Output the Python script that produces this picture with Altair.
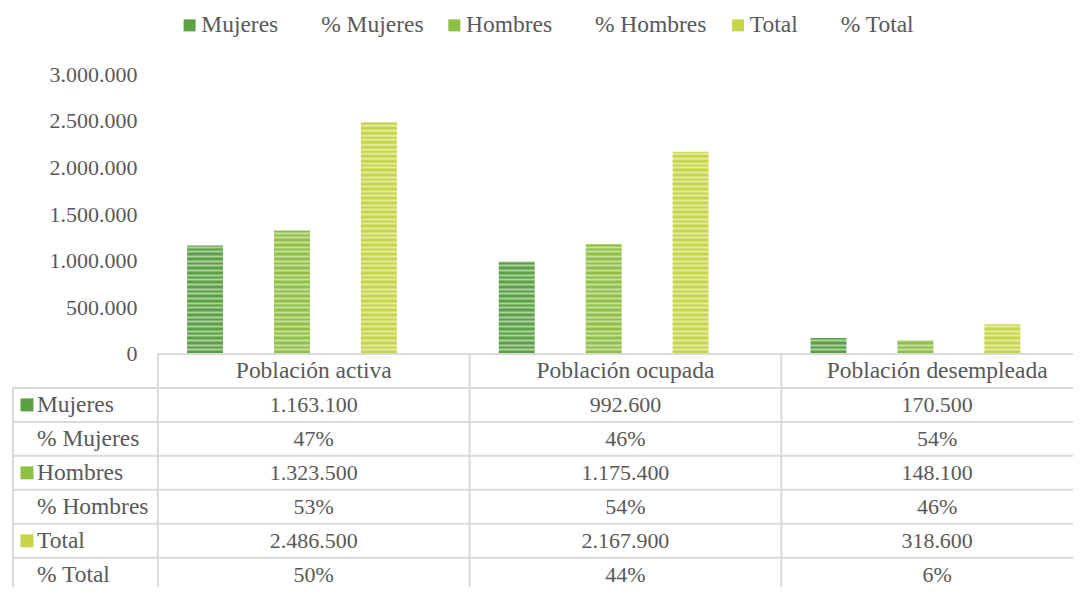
import altair as alt
import pandas as pd

categories = ["Población activa", "Población ocupada", "Población desempleada"]
series = ["Mujeres", "% Mujeres", "Hombres", "% Hombres", "Total", "% Total"]
mujeres = [1163100, 992600, 170500]
pct_mujeres = [0.47, 0.46, 0.54]
hombres = [1323500, 1175400, 148100]
pct_hombres = [0.53, 0.54, 0.46]
total = [2486500, 2167900, 318600]
pct_total = [0.50, 0.44, 0.06]

colors = ["#5aa144", "transparent", "#8fc043", "transparent", "#c6d647", "transparent"]

FONT = "Liberation Serif"
TXT = "#595959"
LINE = "#d9d9d9"
FS_NUM = 22
FS_WORD = 23.5

values_by_series = [mujeres, pct_mujeres, hombres, pct_hombres, total, pct_total]


def fmt(v, pct):
    if pct:
        return f"{round(v * 100):d}%"
    return f"{v:,}".replace(",", ".")


recs = []
for s, vals in zip(series, values_by_series):
    for c, v in zip(categories, vals):
        recs.append({"cat": c, "series": s, "value": v, "label": fmt(v, s.startswith("%"))})
df = pd.DataFrame(recs)

HDR = "__hdr__"
rows = [HDR] + series
hdr_df = pd.DataFrame({"cat": categories, "series": HDR, "label": categories})
rowlab_df = pd.DataFrame({"series": series})

W = 936
H_TOP = 280
ROW = 34
H_BOT = ROW * len(rows)

xcat = alt.X("cat:N", sort=categories, scale=alt.Scale(domain=categories, paddingInner=0, paddingOuter=0), axis=None)

color_scale = alt.Scale(domain=series, range=colors)

bars = alt.Chart(df).mark_bar().encode(
    x=xcat,
    xOffset=alt.XOffset("series:N", sort=series,
                        scale=alt.Scale(domain=series, paddingInner=0.1724, paddingOuter=0.672)),
    y=alt.Y("value:Q", scale=alt.Scale(domain=[0, 3000000], nice=False),
            axis=alt.Axis(title=None, domain=False, ticks=False, tickSize=0, labelPadding=21,
                          tickCount=60, labelOverlap=False,
                          labelExpr="datum.value % 500000 === 0 ? replace(format(datum.value, ','), regexp(',', 'g'), '.') : ''",
                          labelFont=FONT, labelFontSize=FS_NUM, labelColor=TXT,
                          grid=True, gridColor="white", gridOpacity=0.5, gridWidth=2, zindex=1)),
    color=alt.Color("series:N", sort=series, scale=color_scale,
                    legend=alt.Legend(title=None, orient="none", legendX=20, legendY=-61,
                                      direction="horizontal", symbolType="square", symbolSize=144,
                                      symbolStrokeWidth=0, symbolOpacity=1, labelFont=FONT,
                                      labelFontSize=FS_WORD, labelColor=TXT, columnPadding=19,
                                      labelOffset=0)),
).properties(width=W, height=H_TOP)

yscale = alt.Scale(domain=rows, paddingInner=0, paddingOuter=0)
ycell = alt.Y("series:N", sort=rows, scale=yscale, axis=None)
ycell0 = alt.Y("series:N", sort=rows, scale=yscale, axis=None, bandPosition=0)

hrules = alt.Chart(rowlab_df).mark_rule(color=LINE, strokeWidth=2).encode(
    y=ycell0, x=alt.value(-145), x2=alt.value(W)
)
top_rule = alt.Chart(hdr_df).mark_rule(color=LINE, strokeWidth=2).encode(
    y=ycell0, x=alt.value(0), x2=alt.value(W)
)
vrules = alt.Chart(hdr_df).mark_rule(color=LINE, strokeWidth=2).encode(
    x=alt.X("cat:N", sort=categories, scale=alt.Scale(domain=categories, paddingInner=0, paddingOuter=0),
            axis=None, bandPosition=0),
    y=alt.value(0), y2=alt.value(H_BOT)
)
left_rule = alt.Chart(rowlab_df).mark_rule(color=LINE, strokeWidth=2).encode(
    x=alt.value(-145), y=alt.value(ROW), y2=alt.value(H_BOT)
)
hdr_text = alt.Chart(hdr_df).mark_text(font=FONT, fontSize=FS_WORD, color=TXT).encode(
    x=xcat, y=ycell, text="label:N"
)
cell_text = alt.Chart(df).mark_text(font=FONT, fontSize=FS_NUM, color=TXT).encode(
    x=xcat, y=ycell, text="label:N"
)
row_text = alt.Chart(rowlab_df).mark_text(font=FONT, fontSize=FS_WORD, color=TXT, align="left").encode(
    x=alt.value(-121), y=ycell, text="series:N"
)
squares = alt.Chart(rowlab_df).mark_square(size=169, opacity=1).encode(
    x=alt.value(-131), y=ycell,
    color=alt.Color("series:N", sort=series, scale=color_scale, legend=None)
)

bottom = alt.layer(hrules, top_rule, vrules, left_rule, hdr_text, cell_text, row_text, squares).properties(
    width=W, height=H_BOT
)

chart = alt.vconcat(bars, bottom, spacing=0, bounds="flush").properties(
    padding={"left": 4, "top": 5, "right": -21, "bottom": -6}
).configure_view(strokeWidth=0)

chart.save("out.html", embed_options={"renderer": "svg", "actions": False})
